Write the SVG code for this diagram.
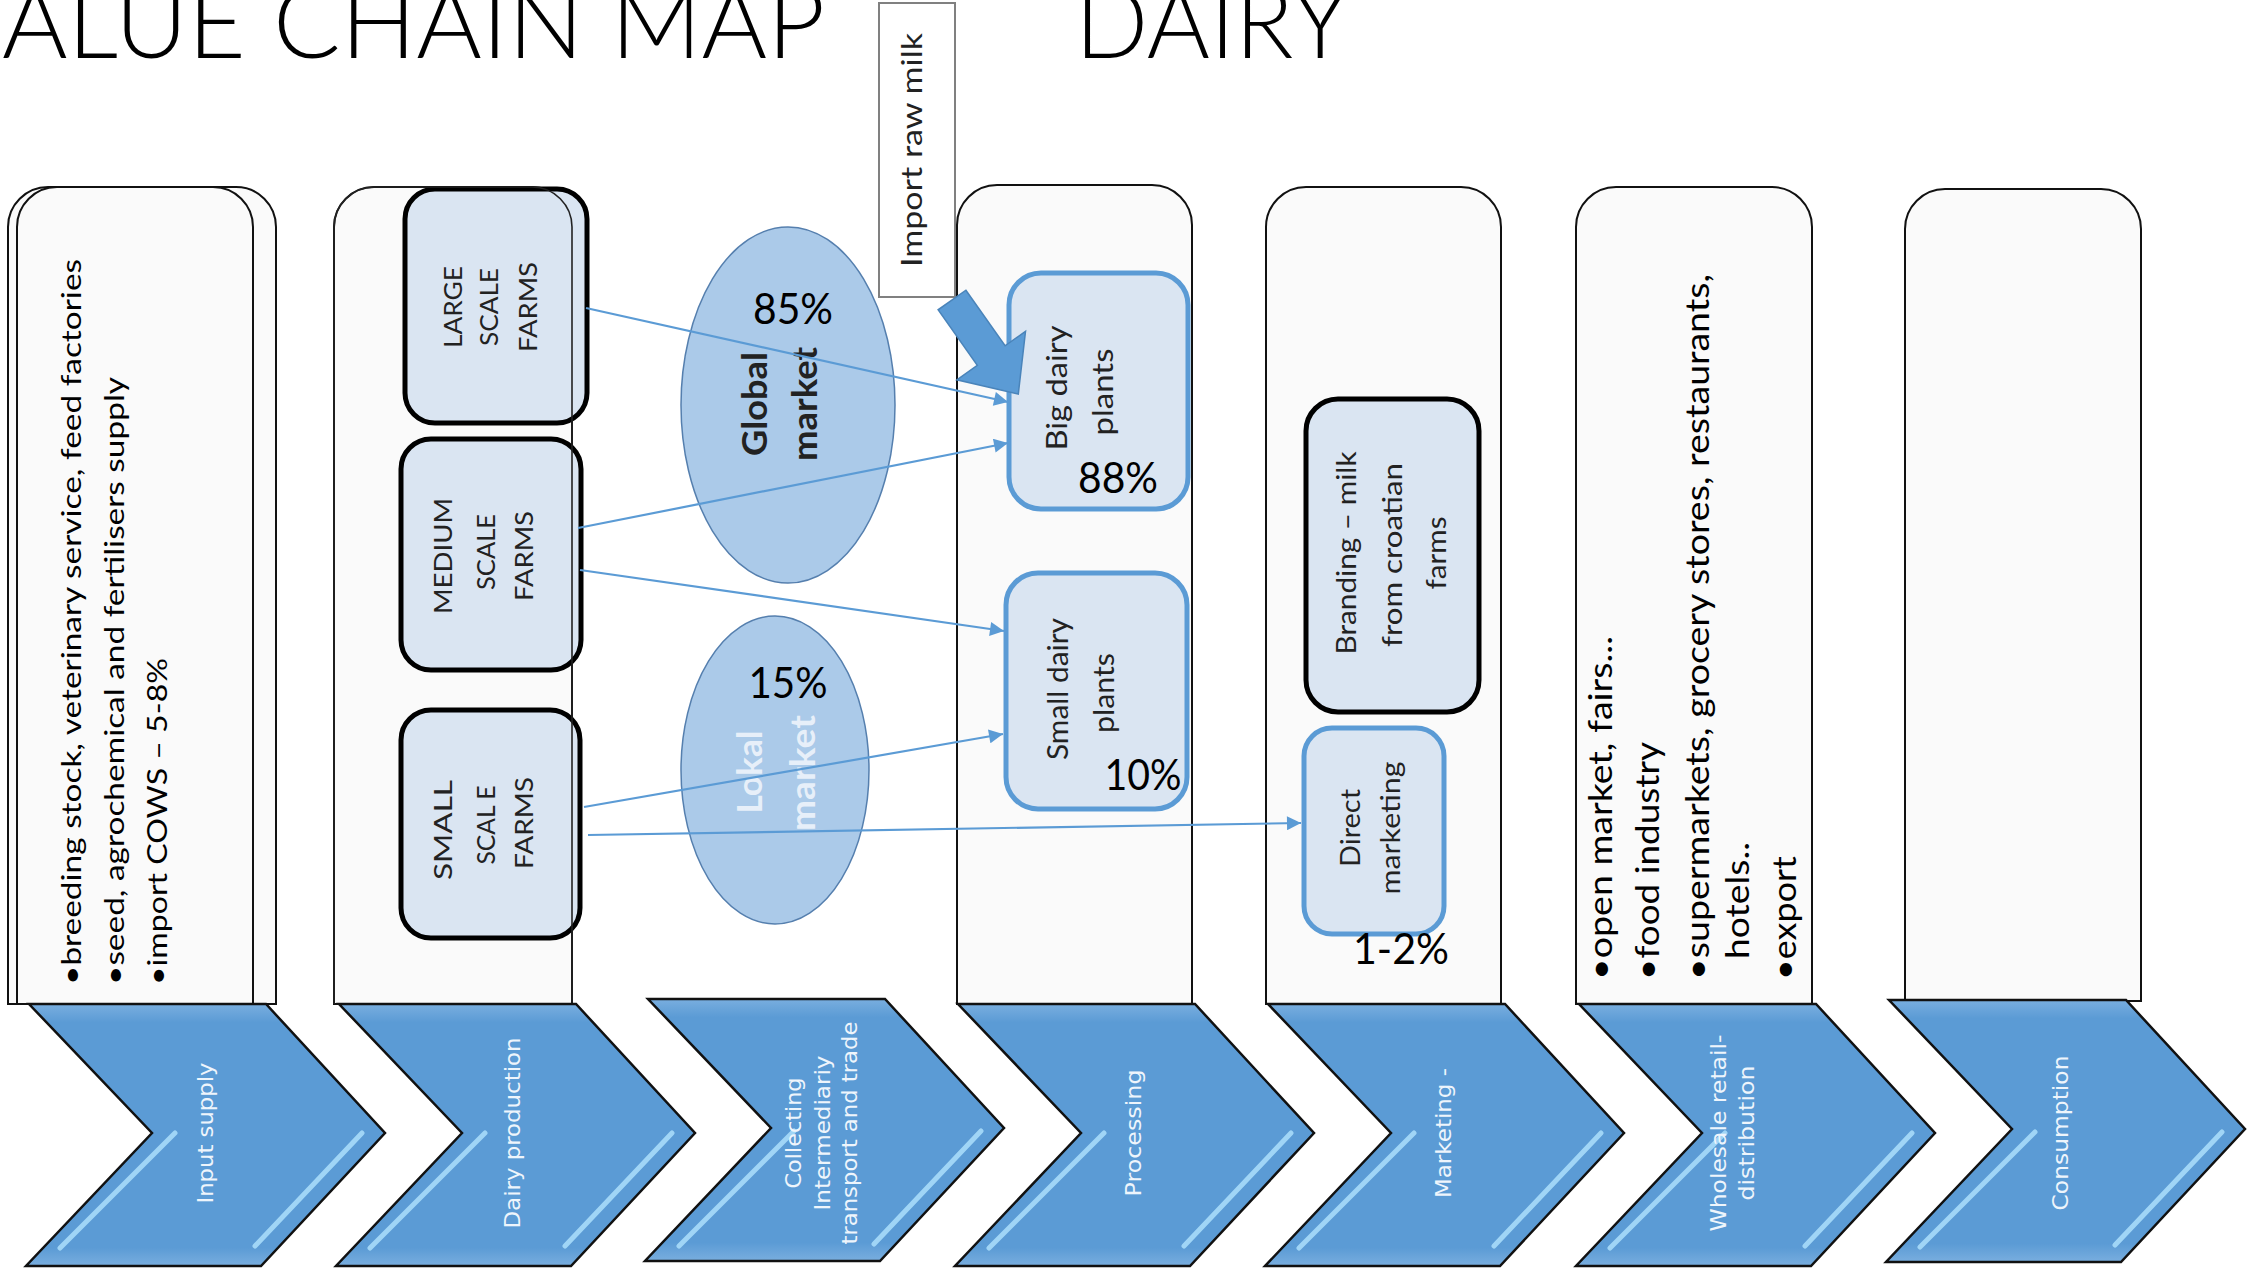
<svg xmlns="http://www.w3.org/2000/svg" width="2256" height="1272" viewBox="0 0 2256 1272">
<defs>
<style>
.panel{fill:#FAFAFA;stroke:#111;stroke-width:2}
.pline{fill:none;stroke:#222;stroke-width:1.6}
.chev{fill:url(#cg);stroke:#111;stroke-width:2.5;stroke-linejoin:miter}
.streak{stroke:#A8DCFA;stroke-width:5;stroke-linecap:round;opacity:0.9}
.ct{font-family:"DejaVu Sans",sans-serif;font-size:21px;fill:#EEF5FC;text-anchor:middle}
.bx{fill:#DAE5F2;stroke:#000;stroke-width:5}
.bb{fill:#DAE5F2;stroke:#5B9BD5;stroke-width:5}
.lt{font-family:Lato,"Liberation Sans",sans-serif;fill:#222;text-anchor:middle}
.pt{font-family:Lato,"Liberation Sans",sans-serif;fill:#000;text-anchor:start}
.pct{font-family:Lato,"Liberation Sans",sans-serif;font-size:42px;fill:#000;text-anchor:middle}
.conn{stroke:#5B9BD5;stroke-width:2.2;fill:none;marker-end:url(#ah)}
.ell{fill:#ABCAE9;stroke:#557FAE;stroke-width:1.5}
.title{font-family:Lato,"Liberation Sans",sans-serif;font-weight:300;font-size:100px;fill:#000}
</style>
<linearGradient id="cg" x1="0" y1="0" x2="0" y2="1">
<stop offset="0" stop-color="#79AEDF"/>
<stop offset="0.07" stop-color="#5B9BD5"/>
<stop offset="0.93" stop-color="#5B9BD5"/>
<stop offset="1" stop-color="#79AEDF"/>
</linearGradient>
<marker id="ah" viewBox="0 0 10 10" refX="10" refY="5" markerWidth="17" markerHeight="14" markerUnits="userSpaceOnUse" orient="auto"><path d="M0,0 L10,5 L0,10 z" fill="#5B9BD5"/></marker>
<path id="chevshape" d="M0,0 L237,0 L356,129 L232,262 L-3,262 L123,129 Z"/>
<g id="streaks"><line class="streak" x1="146" y1="129" x2="31" y2="244"/><line class="streak" x1="333" y1="129" x2="226" y2="242"/></g>
</defs>

<rect x="0" y="0" width="2256" height="1272" fill="#FFFFFF"/>

<g id="title">
<text class="title" x="2" y="58" textLength="823" lengthAdjust="spacingAndGlyphs">ALUE CHAIN MAP</text>
<text class="title" x="1075" y="58" textLength="274" lengthAdjust="spacingAndGlyphs">DAIRY</text>
</g>

<g id="panel-input">
<path class="panel" d="M8,1004 L8,227 A40,40 0 0 1 48,187 L236,187 A40,40 0 0 1 276,227 L276,1004 Z"/>
<path class="panel" d="M17,1004 L17,227 A40,40 0 0 1 57,187 L213,187 A40,40 0 0 1 253,227 L253,1004 Z"/>
<text class="pt" font-size="27" transform="translate(81,985) rotate(-90)" textLength="726" lengthAdjust="spacingAndGlyphs">•breeding stock, veterinary service, feed factories</text>
<text class="pt" font-size="27" transform="translate(124,985) rotate(-90)" textLength="608" lengthAdjust="spacingAndGlyphs">•seed, agrochemical and fertilisers supply</text>
<text class="pt" font-size="27" transform="translate(167,985) rotate(-90)" textLength="327" lengthAdjust="spacingAndGlyphs">•import COWS – 5-8%</text>
</g>

<g id="panel-dairy">
<path class="panel" d="M334,1004 L334,227 A40,40 0 0 1 374,187 L532,187 A40,40 0 0 1 572,227 L572,1004 Z"/>
</g>

<g id="large-farms">
<rect class="bx" x="405" y="189" width="182" height="234" rx="30"/>
<text class="lt" font-size="25" transform="translate(462,307) rotate(-90)" textLength="82" lengthAdjust="spacingAndGlyphs">LARGE</text>
<text class="lt" font-size="25" transform="translate(498,307) rotate(-90)" textLength="78" lengthAdjust="spacingAndGlyphs">SCALE</text>
<text class="lt" font-size="25" transform="translate(537,307) rotate(-90)" textLength="90" lengthAdjust="spacingAndGlyphs">FARMS</text>
</g>
<g id="medium-farms">
<rect class="bx" x="401" y="439" width="180" height="231" rx="30"/>
<text class="lt" font-size="25" transform="translate(452,556) rotate(-90)" textLength="116" lengthAdjust="spacingAndGlyphs">MEDIUM</text>
<text class="lt" font-size="25" transform="translate(495,552) rotate(-90)" textLength="76" lengthAdjust="spacingAndGlyphs">SCALE</text>
<text class="lt" font-size="25" transform="translate(533,556) rotate(-90)" textLength="90" lengthAdjust="spacingAndGlyphs">FARMS</text>
</g>
<g id="small-farms">
<rect class="bx" x="401" y="710" width="179" height="228" rx="30"/>
<text class="lt" font-size="25" transform="translate(452,830) rotate(-90)" textLength="100" lengthAdjust="spacingAndGlyphs">SMALL</text>
<text class="lt" font-size="25" transform="translate(495,825) rotate(-90)" textLength="79" lengthAdjust="spacingAndGlyphs">SCAL E</text>
<text class="lt" font-size="25" transform="translate(533,823) rotate(-90)" textLength="92" lengthAdjust="spacingAndGlyphs">FARMS</text>
</g>
<path class="pline" d="M334,1004 L334,227 A40,40 0 0 1 374,187 L532,187 A40,40 0 0 1 572,227 L572,1004"/>

<g id="global-market">
<ellipse class="ell" cx="788" cy="405" rx="107" ry="178"/>
<text class="pct" x="793" y="324" textLength="80" lengthAdjust="spacingAndGlyphs">85%</text>
<text class="lt" font-size="34" font-weight="bold" fill="#1a1a1a" transform="translate(767,404) rotate(-90)" textLength="104" lengthAdjust="spacingAndGlyphs">Global</text>
<text class="lt" font-size="34" font-weight="bold" fill="#1a1a1a" transform="translate(817,404) rotate(-90)" textLength="114" lengthAdjust="spacingAndGlyphs">market</text>
</g>
<g id="lokal-market">
<ellipse class="ell" cx="775" cy="770" rx="94" ry="154"/>
<text class="pct" x="788" y="698" textLength="79" lengthAdjust="spacingAndGlyphs">15%</text>
<text class="lt" font-size="34" font-weight="bold" style="fill:#EEF4FB" opacity="0.9" transform="translate(762,772) rotate(-90)" textLength="83" lengthAdjust="spacingAndGlyphs">Lokal</text>
<text class="lt" font-size="34" font-weight="bold" style="fill:#EEF4FB" opacity="0.9" transform="translate(815,773) rotate(-90)" textLength="116" lengthAdjust="spacingAndGlyphs">market</text>
</g>

<g id="import-raw-milk">
<rect x="879" y="3" width="76" height="294" fill="#FFFFFF" stroke="#808080" stroke-width="2"/>
<text class="lt" font-size="28" fill="#111" transform="translate(922,150) rotate(-90)" textLength="234" lengthAdjust="spacingAndGlyphs">Import raw milk</text>
</g>

<g id="panel-processing">
<path class="panel" d="M957,1004 L957,225 A40,40 0 0 1 997,185 L1152,185 A40,40 0 0 1 1192,225 L1192,1004 Z"/>
</g>
<g id="big-dairy">
<rect class="bb" x="1009" y="273" width="179" height="236" rx="32"/>
<text class="lt" font-size="28" transform="translate(1067,388) rotate(-90)" textLength="125" lengthAdjust="spacingAndGlyphs">Big dairy</text>
<text class="lt" font-size="28" transform="translate(1113,392) rotate(-90)" textLength="87" lengthAdjust="spacingAndGlyphs">plants</text>
<text class="pct" x="1118" y="493" textLength="80" lengthAdjust="spacingAndGlyphs">88%</text>
</g>
<g id="small-dairy">
<rect class="bb" x="1006" y="573" width="181" height="236" rx="32"/>
<text class="lt" font-size="28" transform="translate(1068,689) rotate(-90)" textLength="142" lengthAdjust="spacingAndGlyphs">Small dairy</text>
<text class="lt" font-size="28" transform="translate(1114,693) rotate(-90)" textLength="80" lengthAdjust="spacingAndGlyphs">plants</text>
<text class="pct" x="1143" y="790" textLength="77" lengthAdjust="spacingAndGlyphs">10%</text>
</g>

<g id="panel-marketing">
<path class="panel" d="M1266,1004 L1266,227 A40,40 0 0 1 1306,187 L1461,187 A40,40 0 0 1 1501,227 L1501,1004 Z"/>
</g>
<g id="branding">
<rect class="bx" x="1306" y="399" width="173" height="313" rx="32"/>
<text class="lt" font-size="26" fill="#333" transform="translate(1356,553) rotate(-90)" textLength="203" lengthAdjust="spacingAndGlyphs">Branding – milk</text>
<text class="lt" font-size="26" fill="#333" transform="translate(1402,555) rotate(-90)" textLength="184" lengthAdjust="spacingAndGlyphs">from croatian</text>
<text class="lt" font-size="26" fill="#333" transform="translate(1446,553) rotate(-90)" textLength="73" lengthAdjust="spacingAndGlyphs">farms</text>
</g>
<g id="direct-marketing">
<rect class="bb" x="1304" y="728" width="140" height="206" rx="28"/>
<text class="lt" font-size="26" fill="#333" transform="translate(1360,828) rotate(-90)" textLength="78" lengthAdjust="spacingAndGlyphs">Direct</text>
<text class="lt" font-size="26" fill="#333" transform="translate(1400,828) rotate(-90)" textLength="133" lengthAdjust="spacingAndGlyphs">marketing</text>
<text class="pct" x="1401" y="964" textLength="96" lengthAdjust="spacingAndGlyphs">1-2%</text>
</g>

<g id="panel-wholesale">
<path class="panel" d="M1576,1004 L1576,227 A40,40 0 0 1 1616,187 L1772,187 A40,40 0 0 1 1812,227 L1812,1004 Z"/>
<text class="pt" font-size="32" transform="translate(1612,980) rotate(-90)" textLength="344" lengthAdjust="spacingAndGlyphs">•open market, fairs...</text>
<text class="pt" font-size="32" transform="translate(1659,980) rotate(-90)" textLength="238" lengthAdjust="spacingAndGlyphs">•food industry</text>
<text class="pt" font-size="32" transform="translate(1709,980) rotate(-90)" textLength="706" lengthAdjust="spacingAndGlyphs">•supermarkets, grocery stores, restaurants,</text>
<text class="pt" font-size="32" transform="translate(1749,959) rotate(-90)" textLength="117" lengthAdjust="spacingAndGlyphs">hotels..</text>
<text class="pt" font-size="32" transform="translate(1796,980) rotate(-90)" textLength="124" lengthAdjust="spacingAndGlyphs">•export</text>
</g>

<g id="panel-consumption">
<path class="panel" d="M1905,1001 L1905,229 A40,40 0 0 1 1945,189 L2101,189 A40,40 0 0 1 2141,229 L2141,1001 Z"/>
</g>

<g id="connectors">
<line class="conn" x1="586" y1="308" x2="1008" y2="402"/>
<line class="conn" x1="578" y1="528" x2="1008" y2="443"/>
<line class="conn" x1="580" y1="570" x2="1004" y2="631"/>
<line class="conn" x1="584" y1="807" x2="1003" y2="734"/>
<line class="conn" x1="588" y1="835" x2="1301" y2="823"/>
<polygon points="0,-17 68,-17 68,-42 115,0 68,42 68,17 0,17" fill="#5B9BD5" stroke="#4A84BA" stroke-width="1.5" transform="translate(952,300) rotate(54.8)"/>
</g>

<g id="chev-input"><use href="#chevshape" class="chev" transform="translate(29,1004)"/><use href="#streaks" transform="translate(29,1004)"/>
<text class="ct" transform="translate(213,1133) rotate(-90)" textLength="141" lengthAdjust="spacingAndGlyphs">Input supply</text></g>
<g id="chev-dairy"><use href="#chevshape" class="chev" transform="translate(339,1004)"/><use href="#streaks" transform="translate(339,1004)"/>
<text class="ct" transform="translate(520,1133) rotate(-90)" textLength="191" lengthAdjust="spacingAndGlyphs">Dairy production</text></g>
<g id="chev-collecting"><use href="#chevshape" class="chev" transform="translate(648,999)"/><use href="#streaks" transform="translate(648,1002)"/>
<text class="ct" transform="translate(801,1133) rotate(-90)" textLength="111" lengthAdjust="spacingAndGlyphs">Collecting</text>
<text class="ct" transform="translate(830,1133) rotate(-90)" textLength="155" lengthAdjust="spacingAndGlyphs">Intermediariy</text>
<text class="ct" transform="translate(857,1133) rotate(-90)" textLength="223" lengthAdjust="spacingAndGlyphs">transport and trade</text></g>
<g id="chev-processing"><use href="#chevshape" class="chev" transform="translate(958,1004)"/><use href="#streaks" transform="translate(958,1004)"/>
<text class="ct" transform="translate(1141,1133) rotate(-90)" textLength="127" lengthAdjust="spacingAndGlyphs">Processing</text></g>
<g id="chev-marketing"><use href="#chevshape" class="chev" transform="translate(1268,1004)"/><use href="#streaks" transform="translate(1268,1004)"/>
<text class="ct" transform="translate(1451,1133) rotate(-90)" textLength="130" lengthAdjust="spacingAndGlyphs">Marketing -</text></g>
<g id="chev-wholesale"><use href="#chevshape" class="chev" transform="translate(1579,1004)"/><use href="#streaks" transform="translate(1579,1004)"/>
<text class="ct" transform="translate(1726,1133) rotate(-90)" textLength="197" lengthAdjust="spacingAndGlyphs">Wholesale retail-</text>
<text class="ct" transform="translate(1754,1133) rotate(-90)" textLength="135" lengthAdjust="spacingAndGlyphs">distribution</text></g>
<g id="chev-consumption"><use href="#chevshape" class="chev" transform="translate(1889,1000)"/><use href="#streaks" transform="translate(1889,1003)"/>
<text class="ct" transform="translate(2068,1133) rotate(-90)" textLength="155" lengthAdjust="spacingAndGlyphs">Consumption</text></g>
</svg>
